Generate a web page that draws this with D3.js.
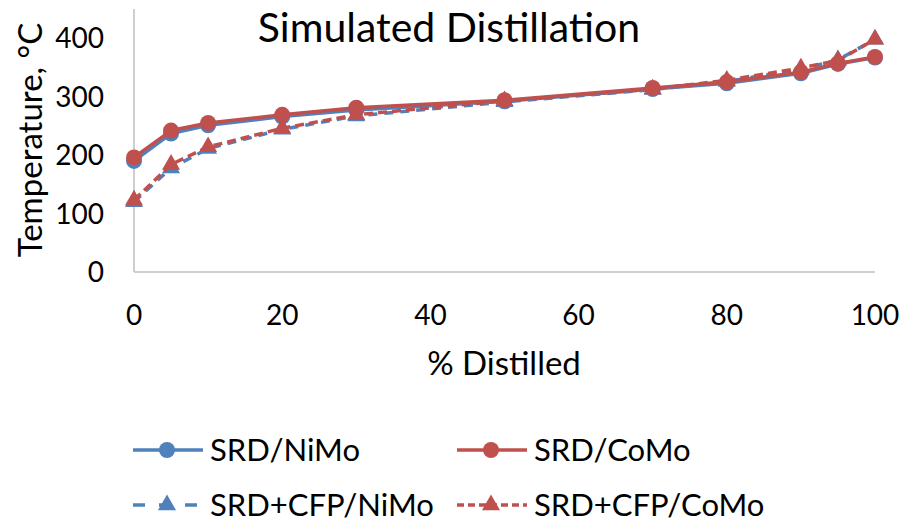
<!DOCTYPE html>
<html><head><meta charset="utf-8">
<script src="https://cdn.jsdelivr.net/npm/d3@7"></script>
<style>body{margin:0;background:#fff}svg{display:block}text{font-family:Lato,"Open Sans",sans-serif;fill:#000}</style>
</head><body><svg id="c" width="904" height="525"></svg>
<script>
const distilled = [0,5,10,20,30,50,70,80,90,95,100];
const srdNiMo    = [190,237,251,266,277,292,313,323,340,356,367];
const srdCoMo    = [196,242,255,269,281,294,315,325,342,357,368];
const cfpNiMo    = [120,178,211,244,267,291,312,326,347,363,398];
const cfpCoMo    = [123,184,214,246,269,293,313,328,349,362,398];
const xTicks = [0,20,40,60,80,100];
const yTicks = [0,100,200,300,400];
const seriesNames = ["SRD/NiMo","SRD/CoMo","SRD+CFP/NiMo","SRD+CFP/CoMo"];

const blue="#4F81BD", red="#C0504D";
const series = [
  {name:seriesNames[0], vals:srdNiMo, color:blue, dash:null, marker:"circle"},
  {name:seriesNames[2], vals:cfpNiMo, color:blue, dash:"9,7", marker:"triangle"},
  {name:seriesNames[1], vals:srdCoMo, color:red, dash:null, marker:"circle"},
  {name:seriesNames[3], vals:cfpCoMo, color:red, dash:"9,5", marker:"triangle"}
];

const svg=d3.select("#c");
const x=d3.scaleLinear().domain([0,100]).range([134,875]);
const y=d3.scaleLinear().domain([0,450]).range([272,9]);

svg.append("line").attr("x1",x(0)).attr("x2",x(100)).attr("y1",y(0)).attr("y2",y(0)).attr("stroke","#BFBFBF").attr("stroke-width",1.5);
svg.append("line").attr("x1",x(0)).attr("x2",x(0)).attr("y1",y(0)).attr("y2",y(450)).attr("stroke","#BFBFBF").attr("stroke-width",1.5);

svg.selectAll(".yt").data(yTicks).enter().append("text").attr("x",104).attr("y",d=>y(d)).attr("dy","0.36em").attr("text-anchor","end").style("font-size","28px").text(d=>d);
svg.selectAll(".xt").data(xTicks).enter().append("text").attr("x",d=>x(d)).attr("y",315).attr("dy","0.36em").attr("text-anchor","middle").style("font-size","28px").text(d=>d);

svg.append("text").attr("x",504).attr("y",363).attr("dy","0.36em").attr("text-anchor","middle").style("font-size","33px").text("% Distilled");
svg.append("text").attr("transform","translate(30,140) rotate(-90)").attr("dy","0.36em").attr("text-anchor","middle").style("font-size","33px").text("Temperature, °C");
svg.append("text").attr("x",449).attr("y",27).attr("dy","0.36em").attr("text-anchor","middle").style("font-size","41px").text("Simulated Distillation");

const line=d3.line().x((d,i)=>x(distilled[i])).y(d=>y(d));
const tri=d3.symbol().type(d3.symbolTriangle).size(140);

function drawMarker(g,m,color,cx,cy){
  if(m==="circle") g.append("circle").attr("cx",cx).attr("cy",cy).attr("r",8).attr("fill",color);
  else g.append("path").attr("d",tri()).attr("transform",`translate(${cx},${cy})`).attr("fill",color);
}

series.forEach(s=>{
  const g=svg.append("g");
  g.append("path").attr("d",line(s.vals)).attr("fill","none").attr("stroke",s.color).attr("stroke-width",3.5).attr("stroke-dasharray",s.dash).attr("stroke-linejoin","round");
  s.vals.forEach((v,i)=>drawMarker(g,s.marker,s.color,x(distilled[i]),y(v)));
});

const leg=[
  {s:series[0],lx:133,ty:450},{s:series[2],lx:457,ty:450},
  {s:series[1],lx:133,ty:505},{s:series[3],lx:457,ty:505}
];
leg.forEach(l=>{
  const g=svg.append("g");
  g.append("line").attr("x1",l.lx).attr("x2",l.lx+70).attr("y1",l.ty).attr("y2",l.ty).attr("stroke",l.s.color).attr("stroke-width",3.5).attr("stroke-dasharray",l.s.dash? (l.s.color===blue?"12,14":"7,4"):null);
  drawMarker(g,l.s.marker,l.s.color,l.lx+34,l.ty);
  g.append("text").attr("x",l.lx+77).attr("y",l.ty).attr("dy","0.36em").style("font-size","31px").text(l.s.name);
});
</script></body></html>
